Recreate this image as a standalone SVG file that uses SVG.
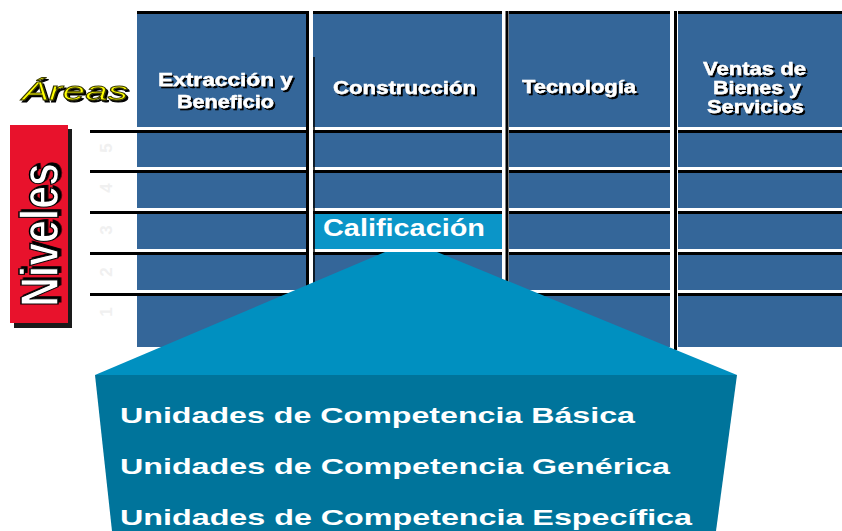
<svg xmlns="http://www.w3.org/2000/svg" width="842" height="531" viewBox="0 0 842 531">
  <defs>
    <filter id="sh" x="-10%" y="-30%" width="130%" height="160%">
      <feDropShadow dx="2" dy="2" stdDeviation="0.6" flood-color="#000000" flood-opacity="1"/>
    </filter>
  </defs>
  <style>
    .hdr { font-family: "Liberation Sans", Arial, sans-serif; font-weight: bold; font-size: 18px; fill: #ffffff; stroke: #ffffff; stroke-width: 0.4; filter: url(#sh); }
    .blk { stroke: #000000; stroke-width: 3; }
    .wht { stroke: #ffffff; stroke-width: 3; }
    .unit { font-family: "Liberation Sans", Arial, sans-serif; font-weight: bold; font-size: 21.5px; fill: #ffffff; }
    .num { font-family: "Liberation Sans", Arial, sans-serif; font-weight: bold; font-size: 17px; fill: #f0f0f0; text-anchor: middle; }
  </style>
  <rect x="0" y="0" width="842" height="531" fill="#ffffff"/>

  <!-- grid background -->
  <g id="grid">
    <rect x="137" y="12" width="705" height="335" fill="#346699"/>
  </g>

  <!-- grid lines -->
  <g id="grid-lines">
    <line class="blk" x1="137" y1="12.5" x2="842" y2="12.5"/>
    <line class="wht" x1="137" y1="128.5" x2="842" y2="128.5"/>
    <line class="blk" x1="90" y1="131.5" x2="842" y2="131.5"/>
    <line class="wht" x1="137" y1="168.5" x2="842" y2="168.5"/>
    <line class="blk" x1="90" y1="171.5" x2="842" y2="171.5"/>
    <line class="wht" x1="137" y1="209.5" x2="842" y2="209.5"/>
    <line class="blk" x1="90" y1="212.5" x2="842" y2="212.5"/>
    <line class="wht" x1="137" y1="250.5" x2="842" y2="250.5"/>
    <line class="blk" x1="90" y1="253.5" x2="842" y2="253.5"/>
    <line class="wht" x1="137" y1="291.5" x2="842" y2="291.5"/>
    <line class="blk" x1="90" y1="294.5" x2="842" y2="294.5"/>
    <rect x="306" y="10" width="7" height="337" fill="#ffffff"/>
    <line class="blk" x1="307.5" y1="11" x2="307.5" y2="347"/>
    <line class="wht" x1="311" y1="57" x2="311" y2="347"/>
    <line x1="314" y1="57" x2="314" y2="347" stroke="#000" stroke-width="1.5"/>
    <rect x="502" y="10" width="7" height="337" fill="#ffffff"/>
    <line class="wht" x1="503.5" y1="57" x2="503.5" y2="347"/>
    <line class="blk" x1="507" y1="11" x2="507" y2="347"/>
    <rect x="670" y="10" width="8" height="337" fill="#ffffff"/>
    <line class="wht" x1="672" y1="14" x2="672" y2="347"/>
    <line class="blk" x1="675.5" y1="11" x2="675.5" y2="350"/>
  </g>

  <!-- column headers -->
  <g id="col-extraccion">
    <text class="hdr" x="158" y="86" textLength="135" lengthAdjust="spacingAndGlyphs">Extracción y</text>
    <text class="hdr" x="177" y="108" textLength="97" lengthAdjust="spacingAndGlyphs">Beneficio</text>
  </g>
  <g id="col-construccion">
    <text class="hdr" x="333" y="94" textLength="143" lengthAdjust="spacingAndGlyphs">Construcción</text>
  </g>
  <g id="col-tecnologia">
    <text class="hdr" x="522" y="93" textLength="114" lengthAdjust="spacingAndGlyphs">Tecnología</text>
  </g>
  <g id="col-ventas">
    <text class="hdr" x="703" y="75" textLength="103" lengthAdjust="spacingAndGlyphs">Ventas de</text>
    <text class="hdr" x="713" y="94" textLength="88" lengthAdjust="spacingAndGlyphs">Bienes y</text>
    <text class="hdr" x="707" y="113" textLength="97" lengthAdjust="spacingAndGlyphs">Servicios</text>
  </g>

  <!-- Areas label -->
  <g id="areas-label">
    <text x="22" y="100" font-family="'Liberation Sans', Arial, sans-serif" font-style="italic" font-size="26" fill="#ffff00" stroke="#3a3a00" stroke-width="0.9" filter="url(#sh)" textLength="106" lengthAdjust="spacingAndGlyphs">Áreas</text>
  </g>

  <!-- Niveles label -->
  <g id="niveles-label">
    <rect x="14" y="129" width="58" height="199" fill="#1a1a1a"/>
    <rect x="10" y="125" width="58" height="198" fill="#e8122c"/>
    <text transform="translate(58,235) scale(1.3,1) rotate(-90)" x="0" y="0" text-anchor="middle" font-family="'Liberation Sans', Arial, sans-serif" font-weight="bold" font-size="41" fill="#ffffff" stroke="#000000" stroke-width="1" filter="url(#sh)">Niveles</text>
  </g>

  <!-- faint level numbers -->
  <g id="level-numbers">
    <text class="num" transform="translate(112,148) rotate(-90)" x="0" y="0">5</text>
    <text class="num" transform="translate(112,188) rotate(-90)" x="0" y="0">4</text>
    <text class="num" transform="translate(112,230) rotate(-90)" x="0" y="0">3</text>
    <text class="num" transform="translate(112,272) rotate(-90)" x="0" y="0">2</text>
    <text class="num" transform="translate(112,312) rotate(-90)" x="0" y="0">1</text>
  </g>

  <!-- expansion trapezoid -->
  <g id="units-panel">
    <polygon points="385,252 437,252 737,375 95,375" fill="#0090c0"/>
    <polygon points="95,375 737,375 716,531 112,531" fill="#00749b"/>
    <text class="unit" x="120" y="423" textLength="515" lengthAdjust="spacingAndGlyphs">Unidades de Competencia Básica</text>
    <text class="unit" x="120" y="474" textLength="550" lengthAdjust="spacingAndGlyphs">Unidades de Competencia Genérica</text>
    <text class="unit" x="120" y="525" textLength="572" lengthAdjust="spacingAndGlyphs">Unidades de Competencia Específica</text>
  </g>

  <!-- Calificacion cell -->
  <g id="calificacion">
    <rect x="315" y="214" width="187" height="35" fill="#0b95c8"/>
    <text x="323" y="236" font-family="'Liberation Sans', Arial, sans-serif" font-weight="bold" font-size="23" fill="#ffffff" textLength="162" lengthAdjust="spacingAndGlyphs">Calificación</text>
  </g>
</svg>
